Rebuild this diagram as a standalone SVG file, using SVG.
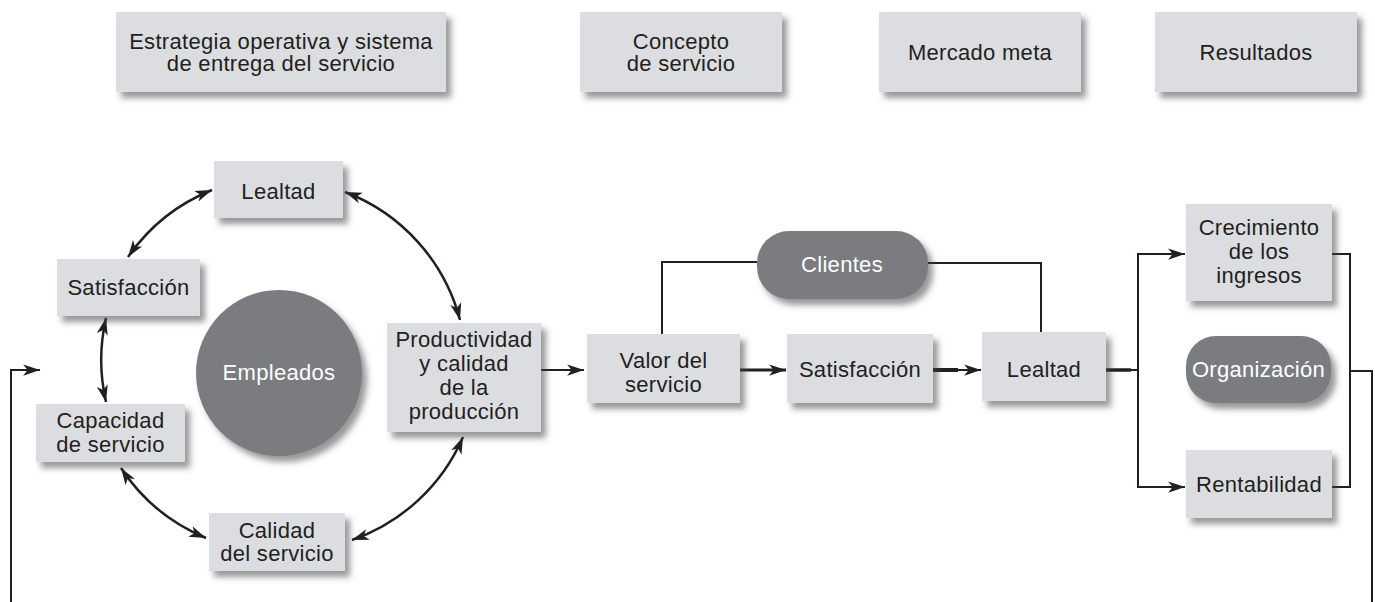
<svg xmlns="http://www.w3.org/2000/svg" width="1375" height="602" viewBox="0 0 1375 602">
<style>
.box{fill:#dcdde0;filter:url(#sh)}
.dark{fill:#7a7b7f;filter:url(#sh)}
.t{font-family:"Liberation Sans",Arial,sans-serif;font-size:22px;letter-spacing:0.3px;fill:#231f20;text-anchor:middle}
.w{fill:#ffffff}
.ln{fill:none;stroke:#231f20;stroke-width:2}
.ar{fill:none;stroke:#231f20;stroke-width:2.5}
</style>
<defs>
<filter id="sh" x="-20%" y="-20%" width="150%" height="160%">
<feDropShadow dx="5" dy="6" stdDeviation="3" flood-color="#444" flood-opacity="0.55"/>
</filter>
<marker id="ah" markerUnits="userSpaceOnUse" markerWidth="18" markerHeight="12" refX="15" refY="5" orient="auto-start-reverse" viewBox="0 0 16 10">
<path d="M0,0 L15,5 L0,10 L4,5 z" fill="#231f20"/>
</marker>
</defs>

<rect width="1375" height="602" fill="#ffffff"/>

<g id="top-estrategia"><rect class="box" x="116" y="12" width="330" height="80"/>
<text class="t" x="281" y="48.5">Estrategia operativa y sistema</text>
<text class="t" x="281" y="71">de entrega del servicio</text></g>
<g id="top-concepto"><rect class="box" x="580" y="12" width="202" height="80"/>
<text class="t" x="681" y="48.5">Concepto</text>
<text class="t" x="681" y="71">de servicio</text></g>
<g id="top-mercado"><rect class="box" x="879" y="12" width="202" height="80"/>
<text class="t" x="980" y="60">Mercado meta</text></g>
<g id="top-resultados"><rect class="box" x="1155" y="12" width="202" height="80"/>
<text class="t" x="1256" y="60">Resultados</text></g>

<g id="connectors">
<path class="ar" d="M212,190 A188,188 0 0 0 128,257" marker-start="url(#ah)" marker-end="url(#ah)"/>
<path class="ar" d="M106,318 A188,188 0 0 0 106,402" marker-start="url(#ah)" marker-end="url(#ah)"/>
<path class="ar" d="M121,468 A188,188 0 0 0 206,538" marker-start="url(#ah)" marker-end="url(#ah)"/>
<path class="ar" d="M352,540 A188,188 0 0 0 463,437" marker-start="url(#ah)" marker-end="url(#ah)"/>
<path class="ar" d="M460,320 A188,188 0 0 0 345,192" marker-start="url(#ah)" marker-end="url(#ah)"/>
<path class="ln" d="M11,602 V370 H40" marker-end="url(#ah)"/>
<path class="ln" d="M541,370 H584" marker-end="url(#ah)"/>
<path class="ln" style="stroke-width:3" d="M740,370 H786" marker-end="url(#ah)"/>
<path class="ln" style="stroke-width:4" d="M933,370 H958"/>
<path class="ln" d="M956,370 H981" marker-end="url(#ah)"/>
<path class="ln" style="stroke-width:3.5" d="M1106,370 H1131"/>
<path class="ln" d="M1128,370 H1138"/>
<path class="ln" d="M1185,254 H1138 V487 H1185" marker-start="url(#ah)" marker-end="url(#ah)"/>
<path class="ln" d="M662,334 V262 H757"/>
<path class="ln" d="M928,263 H1041 V332"/>
<path class="ln" d="M1332,254 H1350 V487 H1332"/>
<path class="ln" d="M1350,371 H1372 V602"/>
</g>

<g id="lealtad-e"><rect class="box" x="214" y="161" width="129" height="57"/>
<text class="t" x="278.5" y="199">Lealtad</text></g>
<g id="satisfaccion-e"><rect class="box" x="57" y="259" width="143" height="57"/>
<text class="t" x="128.5" y="295">Satisfacción</text></g>
<g id="empleados"><circle class="dark" cx="279" cy="373" r="83"/>
<text class="t w" x="279" y="380">Empleados</text></g>
<g id="capacidad"><rect class="box" x="36" y="404" width="149" height="58"/>
<text class="t" x="110.5" y="428">Capacidad</text>
<text class="t" x="110.5" y="452">de servicio</text></g>
<g id="calidad"><rect class="box" x="209" y="513" width="136" height="58"/>
<text class="t" x="277" y="538">Calidad</text>
<text class="t" x="277" y="561">del servicio</text></g>
<g id="productividad"><rect class="box" x="387" y="323" width="154" height="109"/>
<text class="t" x="464" y="347">Productividad</text>
<text class="t" x="464" y="371">y calidad</text>
<text class="t" x="464" y="395">de la</text>
<text class="t" x="464" y="419">producción</text></g>
<g id="valor"><rect class="box" x="587" y="334" width="153" height="69"/>
<text class="t" x="663.5" y="368">Valor del</text>
<text class="t" x="663.5" y="392">servicio</text></g>
<g id="satisfaccion-c"><rect class="box" x="787" y="334" width="146" height="69"/>
<text class="t" x="860" y="377">Satisfacción</text></g>
<g id="lealtad-c"><rect class="box" x="982" y="332" width="124" height="69"/>
<text class="t" x="1044" y="377">Lealtad</text></g>
<g id="clientes"><rect class="dark" x="757" y="231" width="171" height="68" rx="32"/>
<text class="t w" x="842" y="272">Clientes</text></g>
<g id="crecimiento"><rect class="box" x="1186" y="204" width="146" height="97"/>
<text class="t" x="1259" y="235">Crecimiento</text>
<text class="t" x="1259" y="259">de los</text>
<text class="t" x="1259" y="283">ingresos</text></g>
<g id="organizacion"><rect class="dark" x="1186" y="336" width="145" height="67" rx="30"/>
<text class="t w" x="1258.5" y="377">Organización</text></g>
<g id="rentabilidad"><rect class="box" x="1186" y="450" width="146" height="68"/>
<text class="t" x="1259" y="492">Rentabilidad</text></g>
</svg>
